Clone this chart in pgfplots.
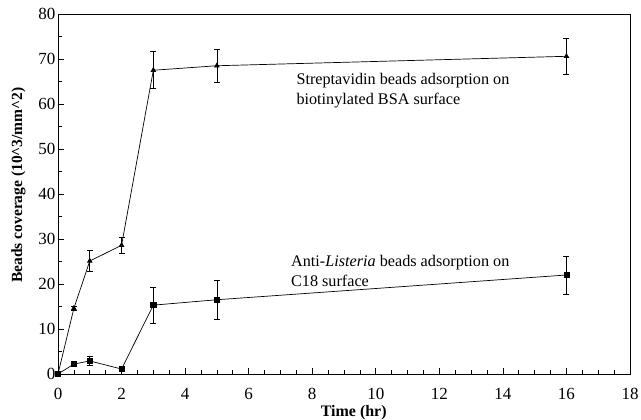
\documentclass[border=0pt]{standalone}
\usepackage{pgfplots}
\pgfplotsset{compat=1.18}
\usetikzlibrary{calc}
\usepackage{fontspec}
\setmainfont{Liberation Serif}
\begin{document}
\begin{tikzpicture}
\begin{axis}[name=ax,
  at={(0,0)}, anchor=south west,
  scale only axis, width=572bp, height=360bp,
  xmin=0, xmax=18, ymin=0, ymax=80,
  xtick={0,2,...,18}, ytick={0,10,...,80},
  minor x tick num=3, minor y tick num=1,
  tick align=inside, xtick pos=bottom, ytick pos=left,
  major tick length=6bp, minor tick length=3.5bp,
  axis line style={line width=0.9pt},
  tick style={line width=0.6pt, black},
  /pgf/number format/assume math mode=true,
  ticklabel style={font=\fontsize{17bp}{18bp}\selectfont},
  xticklabel shift=11bp,
  yticklabel shift=-1bp,
  xlabel={\textbf{Time (hr)}}, ylabel={\textbf{Beads coverage (10\^{}3/mm\^{}2)}},
  xlabel style={font=\fontsize{16bp}{17bp}\selectfont, at={(axis description cs:0.517,0)}, anchor=north, inner sep=0pt, yshift=-31bp},
  ylabel style={font=\fontsize{15.5bp}{16bp}\selectfont, at={(axis description cs:-0.069,0.525)}, anchor=center, inner sep=0pt},
  clip=false,
]
\addplot[black, line width=0.7pt, mark=triangle*, mark size=2.6pt,
  error bars/.cd, y dir=both, y explicit, error mark options={rotate=90, mark size=3bp, line width=0.7pt}, error bar style={line width=0.7pt}]
 coordinates {
 (0,0) +- (0,0)
 (0.5,14.6) +- (0,0.5)
 (1,25.1) +- (0,2.3)
 (2,28.6) +- (0,1.7)
 (3,67.5) +- (0,4.1)
 (5,68.5) +- (0,3.6)
 (16,70.6) +- (0,4)
 };
\addplot[black, line width=0.7pt, mark=square*, mark size=2.6pt,
  error bars/.cd, y dir=both, y explicit, error mark options={rotate=90, mark size=3bp, line width=0.7pt}, error bar style={line width=0.7pt}]
 coordinates {
 (0,0) +- (0,0)
 (0.5,2.2) +- (0,0.4)
 (1,2.9) +- (0,1)
 (2,1.1) +- (0,0.3)
 (3,15.3) +- (0,4)
 (5,16.5) +- (0,4.3)
 (16,22) +- (0,4.2)
 };
\node[anchor=north west, align=left, inner sep=0pt, font=\fontsize{16.2bp}{20bp}\selectfont] at (axis cs:7.5,66.8)
 {Streptavidin beads adsorption on\\biotinylated BSA surface};
\node[anchor=north west, align=left, inner sep=0pt, font=\fontsize{16.2bp}{20bp}\selectfont] at (axis cs:7.33,26.4)
 {Anti-\textit{Listeria} beads adsorption on\\C18 surface};
\end{axis}
\pgfresetboundingbox
\path ($(ax.south west)+(-58bp,-46bp)$) rectangle ($(ax.north east)+(11bp,14bp)$);
\end{tikzpicture}
\end{document}
